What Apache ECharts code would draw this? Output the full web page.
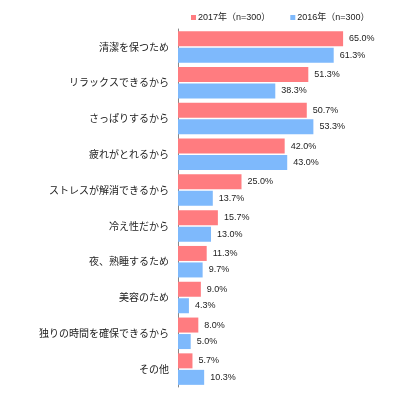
<!DOCTYPE html>
<html><head><meta charset="utf-8">
<script src="https://cdn.jsdelivr.net/npm/echarts@6/dist/echarts.min.js"></script>
<style>html,body{margin:0;padding:0;background:#fff}#c{width:400px;height:397px}</style>
</head><body><div id="c"></div>
<script>
const categories = ['清潔を保つため','リラックスできるから','さっぱりするから','疲れがとれるから','ストレスが解消できるから','冷え性だから','夜、熟睡するため','美容のため','独りの時間を確保できるから','その他'];
const seriesNames = ['2017年（n=300）','2016年（n=300）'];
const values2017 = [65.0,51.3,50.7,42.0,25.0,15.7,11.3,9.0,8.0,5.7];
const values2016 = [61.3,38.3,53.3,43.0,13.7,13.0,9.7,4.3,5.0,10.3];

const font = '"Liberation Sans","Noto Sans CJK JP",sans-serif';
const chart = echarts.init(document.getElementById('c'), null, {renderer:'canvas'});
const lbl = {show:true, position:'right', distance:6, color:'#222', fontSize:9, fontFamily:font,
  formatter: p => p.value.toFixed(1) + '%'};
chart.setOption({
  animation:false,
  textStyle:{fontFamily:font},
  legend:{top:8, left:186, itemWidth:5, itemHeight:5, itemGap:20, icon:'rect',
    textStyle:{fontSize:9, color:'#222', fontFamily:font, padding:[0,0,0,-3]}, data:seriesNames},
  grid:{left:178, top:29, width:203.2, height:358},
  xAxis:{type:'value', min:0, max:80, show:false},
  yAxis:{type:'category', inverse:true, data:categories,
    axisLine:{show:true, lineStyle:{color:'#888', width:1}},
    axisTick:{show:false},
    axisLabel:{margin:9, fontSize:10, color:'#222', fontFamily:'"Noto Sans CJK JP",sans-serif'}},
  series:[
    {name:seriesNames[0], type:'bar', data:values2017, barWidth:15, barGap:'10%',
      itemStyle:{color:'#FF7C80'}, label:lbl},
    {name:seriesNames[1], type:'bar', data:values2016, barWidth:15, barGap:'10%',
      itemStyle:{color:'#7EB9FC'}, label:lbl}
  ]
});
</script></body></html>
